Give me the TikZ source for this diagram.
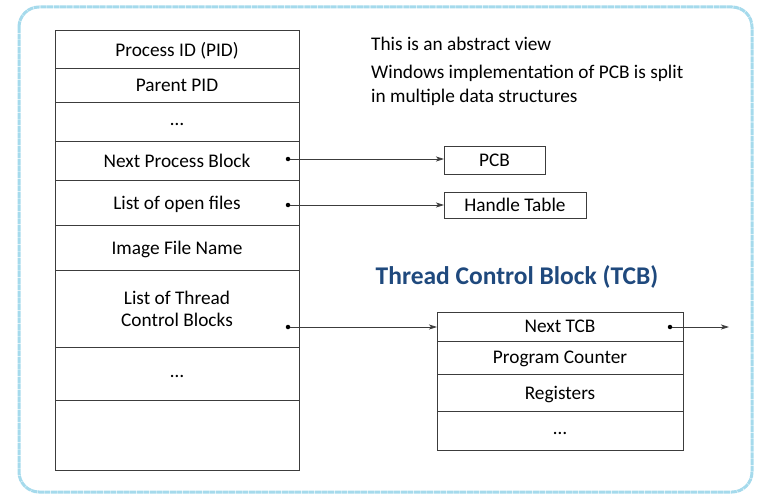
\documentclass[tikz,border=0pt]{standalone}
\usepackage{fontspec}
\setmainfont{Carlito}
\usetikzlibrary{arrows.meta}
\definecolor{frameblue}{RGB}{165,218,236}
\definecolor{titleblue}{RGB}{31,73,125}
\definecolor{linegray}{RGB}{60,60,60}
\newcommand{\lowdots}{\raisebox{-4pt}{\dots}}
\tikzset{
  cell/.style={draw=linegray, line width=0.8pt, minimum width=#1, inner sep=0pt, outer sep=0pt, text depth=0pt, font=\fontsize{19.3}{22}\selectfont, align=center},
  cell/.default=244pt,
  plain/.style={font=\fontsize{19.3}{24}\selectfont, align=left, inner sep=0pt},
  ptr/.style={draw=linegray, line width=0.8pt, -{Stealth[length=8pt,width=5pt,inset=2pt]}},
  dotc/.style={circle, fill=black, inner sep=0pt, minimum size=4.5pt}
}
\begin{document}
\begin{tikzpicture}[x=1pt,y=-1pt]
\useasboundingbox (0,0) rectangle (767,500);
\draw[frameblue, line width=3pt, rounded corners=20pt, dash pattern=on 6pt off 0.6pt] (19,7) rectangle (752,492);
% left table
\node[cell, minimum height=38pt, anchor=north west] (r1) at (55,30) {Process ID (PID)};
\node[cell, minimum height=34pt, anchor=north] (r2) at (r1.south) {Parent PID};
\node[cell, minimum height=39pt, anchor=north] (r3) at (r2.south) {\lowdots};
\node[cell, minimum height=39pt, anchor=north] (r4) at (r3.south) {Next Process Block};
\node[cell, minimum height=45pt, anchor=north] (r5) at (r4.south) {List of open files};
\node[cell, minimum height=45pt, anchor=north] (r6) at (r5.south) {Image File Name};
\node[cell, minimum height=77pt, anchor=north] (r7) at (r6.south) {List of Thread\\[0pt]Control Blocks};
\node[cell, minimum height=53pt, anchor=north] (r8) at (r7.south) {\lowdots};
\node[cell, minimum height=70pt, anchor=north] (r9) at (r8.south) {};
% dots
\node[dotc] (d4) at (288,159) {};
\node[dotc] (d5) at (288,205) {};
\node[dotc] (d7) at (288,327) {};
% right boxes
\node[cell=101pt, minimum height=28pt, anchor=north west] (pcb) at (444,146) {PCB};
\node[cell=142pt, minimum height=26pt, anchor=north west] (ht) at (444,192) {Handle Table};
\draw[ptr] (d4) -- (d4 -| pcb.west);
\draw[ptr] (d5) -- (d5 -| ht.west);
% notes
\node[plain, anchor=base west] (n1) at (371,51) {This is an abstract view};
\node[plain, anchor=north west] (n2) at (371,65) {Windows implementation of PCB is split\\in multiple data structures};
% TCB
\node[font=\bfseries\fontsize{25.5}{30}\selectfont, text=titleblue, inner sep=0pt] (tt) at (517,277) {Thread Control Block (TCB)};
\node[cell=246pt, minimum height=29pt, anchor=north west] (t1) at (437,312) {Next TCB};
\node[cell=246pt, minimum height=33pt, anchor=north] (t2) at (t1.south) {Program Counter};
\node[cell=246pt, minimum height=37pt, anchor=north] (t3) at (t2.south) {Registers};
\node[cell=246pt, minimum height=39pt, anchor=north] (t4) at (t3.south) {\lowdots};
\draw[ptr] (d7) -- (d7 -| t1.west);
\node[dotc] (dt) at (670,327) {};
\coordinate (tend) at (729,327);
\draw[ptr] (dt) -- (tend);
\end{tikzpicture}
\end{document}
